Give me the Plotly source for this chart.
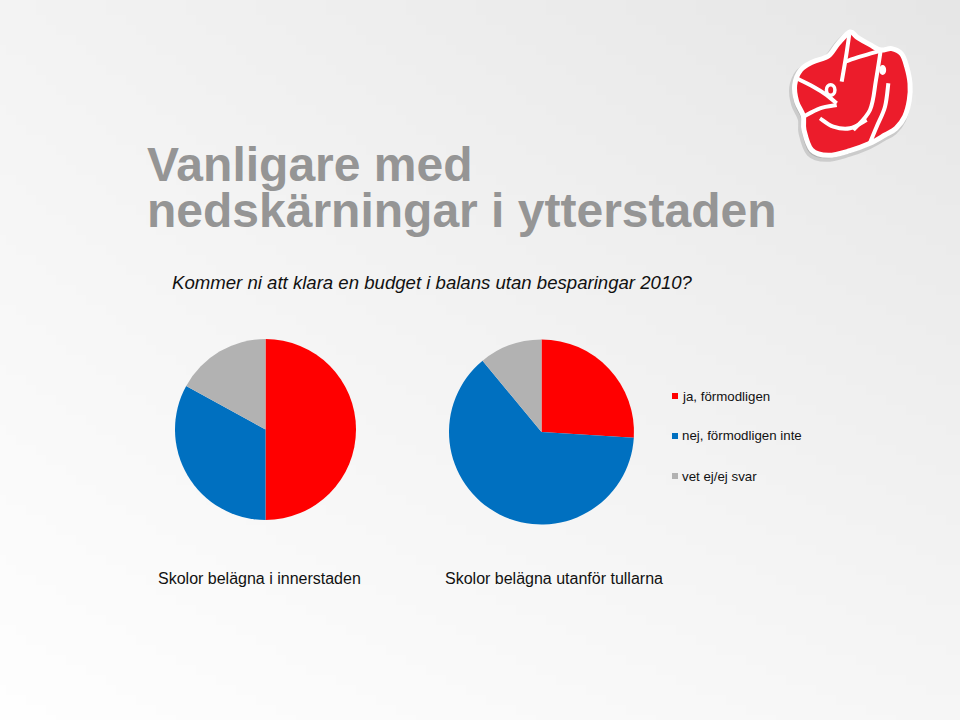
import base64
import struct
import zlib

import plotly.graph_objects as go

# ---------------- data ----------------
categories = ["ja, förmodligen", "nej, förmodligen inte", "vet ej/ej svar"]
inner_city = [50, 33, 17]      # Skolor belägna i innerstaden (%)
outer_city = [26, 63, 11]      # Skolor belägna utanför tullarna (%)
pie_titles = ["Skolor belägna i innerstaden", "Skolor belägna utanför tullarna"]
colors = ["#FF0000", "#0070C0", "#B2B2B2"]

title_lines = ["Vanligare med", "nedskärningar i ytterstaden"]
subtitle = "Kommer ni att klara en budget i balans utan besparingar 2010?"

W, H = 960, 720
FONT = "Liberation Sans, Arial, sans-serif"


def px(x):
    return x / W


def py(y):
    return 1 - y / H


# ---------------- background gradient (generated PNG) ----------------
def make_bg(w=96, h=72):
    tl, tr, bl, br = 243, 230, 254, 246
    rows = b""
    for j in range(h):
        v = j / (h - 1)
        row = b"\x00"
        for i in range(w):
            u = i / (w - 1)
            c = (tl * (1 - u) * (1 - v) + tr * u * (1 - v) + bl * (1 - u) * v + br * u * v)
            c = int(round(c))
            row += bytes([c, c, c])
        rows += row

    def chunk(tag, data):
        return struct.pack(">I", len(data)) + tag + data + struct.pack(">I", zlib.crc32(tag + data) & 0xFFFFFFFF)

    png = b"\x89PNG\r\n\x1a\n"
    png += chunk(b"IHDR", struct.pack(">IIBBBBB", w, h, 8, 2, 0, 0, 0))
    png += chunk(b"IDAT", zlib.compress(rows, 9))
    png += chunk(b"IEND", b"")
    return "data:image/png;base64," + base64.b64encode(png).decode()


fig = go.Figure()

fig.add_trace(go.Pie(
    labels=categories, values=inner_city, sort=False, direction="clockwise",
    rotation=0, marker=dict(colors=colors, line=dict(width=0)),
    textinfo="none", showlegend=False, name=pie_titles[0],
    domain=dict(x=[px(175), px(356)], y=[py(520), py(339)]),
))
fig.add_trace(go.Pie(
    labels=categories, values=outer_city, sort=False, direction="clockwise",
    rotation=0, marker=dict(colors=colors, line=dict(width=0)),
    textinfo="none", showlegend=False, name=pie_titles[1],
    domain=dict(x=[px(449), px(634)], y=[py(525), py(339)]),
))

annotations = []
shapes = []

# title: two lines in one annotation; line pitch = 1.3 * base font size (46 px)
title_html = "<br>".join(f"<span style='font-size:48px'><b>{t}</b></span>" for t in title_lines)
annotations.append(dict(
    x=px(145), y=py(188), xref="paper", yref="paper", xanchor="left", yanchor="middle",
    text=title_html, showarrow=False, align="left",
    font=dict(family=FONT, size=46 / 1.3, color="#959595"),
))

# subtitle
annotations.append(dict(
    x=px(170), y=py(283), xref="paper", yref="paper", xanchor="left", yanchor="middle",
    text=f"<i>{subtitle}</i>", showarrow=False,
    font=dict(family=FONT, size=18.6, color="#111111"),
))

# pie captions
for txt, xl in zip(pie_titles, [156, 443]):
    annotations.append(dict(
        x=px(xl), y=py(578), xref="paper", yref="paper", xanchor="left", yanchor="middle",
        text=txt, showarrow=False,
        font=dict(family=FONT, size=16, color="#111111"),
    ))

# legend (manual)
for k, (lab, col) in enumerate(zip(categories, colors)):
    yc = 396 + k * 40
    shapes.append(dict(
        type="rect", xref="paper", yref="paper",
        x0=px(672), x1=px(678), y0=py(yc + 3), y1=py(yc - 3),
        fillcolor=col, line=dict(width=0),
    ))
    annotations.append(dict(
        x=px(680), y=py(yc), xref="paper", yref="paper", xanchor="left", yanchor="middle",
        text=lab, showarrow=False,
        font=dict(family=FONT, size=13.3, color="#111111"),
    ))


# ---------------- logo (decorative, approximate) ----------------
def smooth_path(pts, close=True):
    """Catmull-Rom spline through pixel points -> cubic bezier SVG path in paper coords."""
    n = len(pts)
    P = [(px(x), py(y)) for x, y in pts]
    s = f"M {P[0][0]:.5f},{P[0][1]:.5f}"
    segs = n if close else n - 1
    for i in range(segs):
        p0 = P[(i - 1) % n] if (close or i > 0) else P[i]
        p1 = P[i]
        p2 = P[(i + 1) % n]
        p3 = P[(i + 2) % n] if (close or i + 2 < n) else P[(i + 1) % n]
        c1 = (p1[0] + (p2[0] - p0[0]) / 6, p1[1] + (p2[1] - p0[1]) / 6)
        c2 = (p2[0] - (p3[0] - p1[0]) / 6, p2[1] - (p3[1] - p1[1]) / 6)
        s += f" C {c1[0]:.5f},{c1[1]:.5f} {c2[0]:.5f},{c2[1]:.5f} {p2[0]:.5f},{p2[1]:.5f}"
    return s + (" Z" if close else "")


def z(x, y):
    return (770 + x / 3, 20 + y / 3)


outer = [z(*p) for p in [
    (240, 36), (262, 52), (300, 74), (332, 90), (365, 86), (395, 102), (410, 140),
    (420, 190), (418, 240), (404, 290), (378, 325), (345, 345), (300, 370),
    (240, 392), (175, 406), (125, 390), (102, 330), (100, 288), (80, 245),
    (74, 195), (92, 150), (128, 126), (175, 108), (205, 70),
]]
shadow = [(x - 2, y + 3) for x, y in outer]
shapes.append(dict(type="path", xref="paper", yref="paper", path=smooth_path(shadow),
                   fillcolor="rgba(0,0,0,0.13)", line=dict(color="rgba(0,0,0,0.13)", width=7)))
shapes.append(dict(type="path", xref="paper", yref="paper", path=smooth_path(outer),
                   fillcolor="#EC1C2B", line=dict(color="white", width=5)))
inner_lines = [
    [z(238, 42), z(228, 110), z(215, 185)],
    [z(225, 125), z(270, 110), z(332, 92)],
    [z(332, 92), z(318, 180), z(300, 270), z(250, 330)],
    [z(80, 175), z(130, 200), z(170, 225), z(200, 250)],
    [z(100, 290), z(150, 265), z(200, 255)],
    [z(150, 295), z(190, 320), z(240, 325), z(290, 300)],
    [z(355, 190), z(345, 260), z(320, 320), z(300, 368)],
]
for ln in inner_lines:
    shapes.append(dict(type="path", xref="paper", yref="paper", path=smooth_path(ln, close=False),
                       line=dict(color="white", width=4)))
# "i" dot
cx, cy = z(338, 150)
shapes.append(dict(type="circle", xref="paper", yref="paper",
                   x0=px(cx - 3.5), x1=px(cx + 3.5), y0=py(cy + 5), y1=py(cy - 5),
                   fillcolor="white", line=dict(width=0)))
# eye
cx, cy = z(182, 210)
shapes.append(dict(type="circle", xref="paper", yref="paper",
                   x0=px(cx - 6), x1=px(cx + 6), y0=py(cy + 7), y1=py(cy - 7),
                   fillcolor="white", line=dict(width=0)))
shapes.append(dict(type="circle", xref="paper", yref="paper",
                   x0=px(cx - 2.5), x1=px(cx + 2.5), y0=py(cy + 3.5), y1=py(cy - 3.5),
                   fillcolor="#EC1C2B", line=dict(width=0)))

fig.update_layout(
    width=W, height=H,
    margin=dict(l=0, r=0, t=0, b=0),
    paper_bgcolor="#f4f4f4",
    plot_bgcolor="rgba(0,0,0,0)",
    images=[dict(source=make_bg(), xref="paper", yref="paper", x=0, y=1,
                 sizex=1, sizey=1, xanchor="left", yanchor="top",
                 sizing="stretch", layer="below")],
    annotations=annotations,
    shapes=shapes,
    showlegend=False,
)

fig.write_html("out.html")
